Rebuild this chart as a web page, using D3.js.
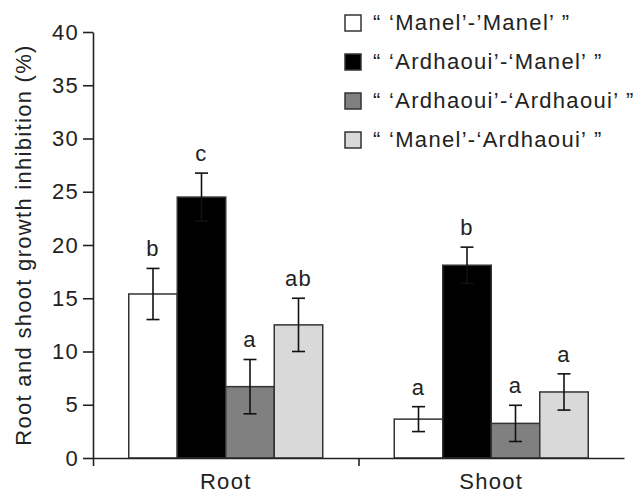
<!DOCTYPE html>
<html lang="en">
<head>
<meta charset="utf-8">
<title>Root and shoot growth inhibition</title>
<script src="https://cdn.jsdelivr.net/npm/d3@7"></script>
<style>
  body { margin: 0; background: #fff; }
  svg text { font-family: "Liberation Sans", Arial, Helvetica, sans-serif; fill: #222; letter-spacing: 1.3px; }
</style>
</head>
<body>
<div id="chart"></div>
<script>
// data
var organs = ["Root", "Shoot"];
var grafts = ["\u201C \u2018Manel\u2019-\u2019Manel\u2019 \u201D",
              "\u201C \u2018Ardhaoui\u2019-\u2018Manel\u2019 \u201D",
              "\u201C \u2018Ardhaoui\u2019-\u2018Ardhaoui\u2019 \u201D",
              "\u201C \u2018Manel\u2019-\u2018Ardhaoui\u2019 \u201D"];
var rootMeans  = [15.4, 24.5, 6.7, 12.5];
var rootErr    = [2.4, 2.25, 2.55, 2.5];
var rootLetters = ["b", "c", "a", "ab"];
var shootMeans = [3.65, 18.1, 3.25, 6.2];
var shootErr   = [1.17, 1.7, 1.7, 1.7];
var shootLetters = ["a", "b", "a", "a"];
var yTicks = [0, 5, 10, 15, 20, 25, 30, 35, 40];
var fills = ["#ffffff", "#000000", "#808080", "#d9d9d9"];

var w = 636, h = 492;
var padLeft = 93, padRight = 624, padTop = 32, padBottom = 458;
var fs = "22px";

var rows = [];
organs.forEach(function(o, oi) {
  var m = oi == 0 ? rootMeans : shootMeans;
  var e = oi == 0 ? rootErr : shootErr;
  var l = oi == 0 ? rootLetters : shootLetters;
  grafts.forEach(function(g, gi) {
    rows.push({organ: o, graft: g, gi: gi, mean: m[gi], err: e[gi], letter: l[gi]});
  });
});

var svg = d3.select("#chart").append("svg")
  .attr("width", w).attr("height", h);

var yScale = d3.scaleLinear().domain([0, 40]).range([padBottom, padTop]);
var xScale = d3.scaleBand().domain(organs).range([padLeft, padRight]).padding(0);
var groupW = 194;
var xInner = d3.scaleBand().domain(d3.range(grafts.length)).range([0, groupW]).padding(0);

function bx(d) { return xScale(d.organ) + (xScale.bandwidth() - groupW) / 2 + xInner(d.gi); }
function cx(d) { return bx(d) + xInner.bandwidth() / 2; }

// bars
svg.selectAll("rect.bar")
  .data(rows)
  .enter()
  .append("rect")
  .attr("class", "bar")
  .attr("x", bx)
  .attr("y", function(d) { return yScale(d.mean); })
  .attr("width", xInner.bandwidth())
  .attr("height", function(d) { return yScale(0) - yScale(d.mean); })
  .attr("fill", function(d) { return fills[d.gi]; })
  .attr("stroke", "#333")
  .attr("stroke-width", 1.5);

// error bars
var eb = svg.selectAll("g.err").data(rows).enter().append("g").attr("class", "err")
  .attr("stroke", "#111").attr("stroke-width", 1.6);
eb.append("line")
  .attr("x1", cx).attr("x2", cx)
  .attr("y1", function(d) { return yScale(d.mean + d.err); })
  .attr("y2", function(d) { return yScale(d.mean - d.err); });
eb.append("line")
  .attr("x1", function(d) { return cx(d) - 6.5; }).attr("x2", function(d) { return cx(d) + 6.5; })
  .attr("y1", function(d) { return yScale(d.mean + d.err); })
  .attr("y2", function(d) { return yScale(d.mean + d.err); });
eb.append("line")
  .attr("x1", function(d) { return cx(d) - 6.5; }).attr("x2", function(d) { return cx(d) + 6.5; })
  .attr("y1", function(d) { return yScale(d.mean - d.err); })
  .attr("y2", function(d) { return yScale(d.mean - d.err); });

// significance letters
svg.selectAll("text.letter").data(rows).enter().append("text")
  .attr("class", "letter")
  .attr("x", cx)
  .attr("y", function(d) { return yScale(d.mean + d.err) - 12; })
  .attr("text-anchor", "middle")
  .style("font-size", fs)
  .text(function(d) { return d.letter; });

// y axis
var yAxis = svg.append("g")
  .attr("transform", "translate(" + padLeft + ",0)")
  .call(d3.axisLeft(yScale).tickValues(yTicks).tickSize(10).tickSizeOuter(0).tickPadding(4));
yAxis.selectAll("text").style("font-size", fs).attr("fill", "#222");
yAxis.selectAll("path, line").attr("stroke", "#222").attr("stroke-width", 1.6);

// x axis: line with ticks at the group boundaries, labels at the group centres
var xEdges = d3.scaleLinear().domain([0, organs.length]).range([padLeft, padRight]);
var xAxis = svg.append("g")
  .attr("transform", "translate(0," + padBottom + ")")
  .call(d3.axisBottom(xEdges).tickValues([0, 1]).tickSize(8).tickSizeOuter(0).tickFormat(""));
xAxis.selectAll("path, line").attr("stroke", "#222").attr("stroke-width", 1.6);

svg.selectAll("text.cat").data(organs).enter().append("text")
  .attr("class", "cat")
  .attr("x", function(d) { return xScale(d) + xScale.bandwidth() / 2; })
  .attr("y", 489)
  .attr("text-anchor", "middle")
  .style("font-size", fs)
  .text(function(d) { return d; });

// y title
svg.append("text")
  .attr("transform", "translate(31,245) rotate(-90)")
  .attr("text-anchor", "middle")
  .style("font-size", fs)
  .text("Root and shoot growth inhibition (%)");

// legend
var leg = svg.selectAll("g.leg").data(grafts).enter().append("g")
  .attr("class", "leg")
  .attr("transform", function(d, i) { return "translate(345," + (30 + i * 39) + ")"; });
leg.append("rect")
  .attr("x", 0).attr("y", -15).attr("width", 16).attr("height", 16)
  .attr("fill", function(d, i) { return fills[i]; })
  .attr("stroke", "#333").attr("stroke-width", 1.5);
leg.append("text")
  .attr("x", 28).attr("y", 0)
  .style("font-size", fs)
  .text(function(d) { return d; });
</script>
</body>
</html>
